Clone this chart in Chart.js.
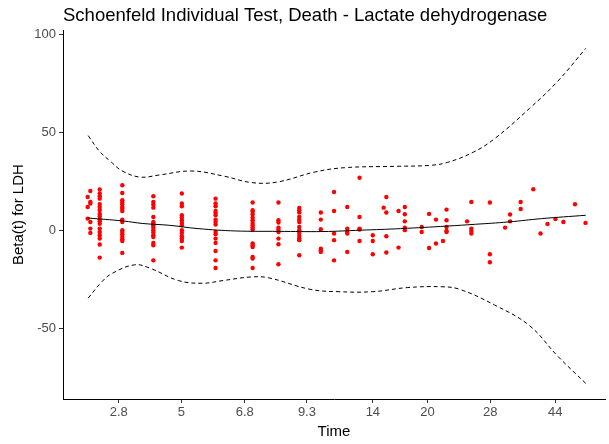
<!DOCTYPE html>
<html>
<head>
<meta charset="utf-8">
<script src="https://cdn.jsdelivr.net/npm/chart.js@4.4.1/dist/chart.umd.min.js"></script>
<style>
  body { margin: 0; background: #fff; }
  canvas { display: block; }
</style>
</head>
<body>
<canvas id="myChart" width="609" height="444"></canvas>
<script>
// transformed time axis (km scale), ticks labelled with the original times
var timeTicks = [0.104, 0.221, 0.339, 0.455, 0.578, 0.68, 0.797, 0.918];
var timeTickLabels = ['2.8', '5', '6.8', '9.3', '14', '20', '28', '44'];
var betaTicks = [-50, 0, 50, 100];

// residuals, one column per event time
var columnTime = [0.046, 0.051, 0.0685, 0.1106, 0.1685, 0.2217, 0.2846, 0.3537, 0.4019, 0.4407,
  0.4809, 0.5056, 0.5302, 0.5531, 0.5778, 0.5981, 0.6031, 0.6259, 0.6376, 0.6691,
  0.6828, 0.6957, 0.7087, 0.7154, 0.7537, 0.7617, 0.7963, 0.8246, 0.8339, 0.8537,
  0.8772, 0.8907, 0.9037, 0.9185, 0.9333, 0.955, 0.9746];
var columnBeta = [
  [17.1, 12.0, 6.1],
  [20.2, 14.6, 13.8, 4.4, 1.0, -1.2],
  [21, 18.9, 17.5, 16.3, 13.5, 12, 10.5, 8.5, 7.3, 5.8, 4.7, 3.5, 1.0, -0.7, -2.4, -4.1, -7.1, -13.8],
  [23.1, 19.2, 15.5, 14.3, 13.3, 12.0, 11.2, 10.0, 5.6, 4.4, 0.2, -0.7, -1.9, -3.3, -4.4, -5.3, -11.4],
  [17.5, 14.6, 13.3, 11.7, 6.9, 4.4, 3.6, 2.7, 1.5, 0.2, -1.0, -2.4, -3.3, -6.3, -7.5, -15.2],
  [18.9, 13.8, 12.4, 7.8, 6.6, 5.3, 3.9, 2.7, 0.2, -1.2, -2.9, -4.1, -5.3, -8.7],
  [16.3, 13.8, 12.4, 10.0, 9.0, 7.8, 5.6, 4.4, 3.1, -0.7, -1.9, -4.1, -6.3, -10.4, -15.2, -19.1],
  [14.3, 10.4, 9.5, 8.2, 6.6, 5.3, 3.9, 2.7, 1.5, 0.5, -6.6, -7.5, -8.4, -13.5, -14.3, -19.1],
  [14.3, 5.3, 4.1, 1.5, 0.5, -0.7, -4.1, -7.0, -17.2],
  [11.5, 10.4, 9.2, 6.9, 5.6, 4.4, 1.8, 0.2, -1.2, -2.8, -4.1, -4.9, -12.6],
  [9.2, 5.6, 0.7, -9.2, -10.1, -10.9],
  [19.7, 10.0, -1.5, -4.9, -15.2],
  [12.0, 1.0, -0.7, -1.5, -10.9],
  [27.0, 6.9, 1.0, 0.5, -5.3],
  [-2.4, -5.3, -12.1],
  [11.7],
  [17.1, 9.2, -2.9, -11.2],
  [10.0, -8.7],
  [12.0, 8.3, 4.7, 1.5, 0.2],
  [1.8, -0.7],
  [8.5, -8.9],
  [5.6, -6.6],
  [-5.3],
  [10.7, 5.3, 1.8, -0.2, -0.7],
  [4.7],
  [14.6, 1.0, -0.2, -1.5],
  [14.3, -12.1, -16.2],
  [1.5],
  [8.2, 4.7],
  [14.6, 11.0],
  [21.1],
  [-1.5],
  [3.4],
  [5.9],
  [4.4],
  [13.4],
  [3.9]
];

// smoothed beta(t)
var fitTime = [0.047, 0.112, 0.149, 0.198, 0.252, 0.322, 0.402, 0.485, 0.556, 0.63, 0.717, 0.769, 0.831, 0.893, 0.975];
var fitBeta = [6.4, 4.9, 3.6, 2.7, 1.0, -0.2, -0.4, -0.5, 0.2, 1.0, 2.3, 3.2, 4.4, 6.1, 7.8];

// confidence bands
var upperTime = [0.047, 0.068, 0.09, 0.11, 0.144, 0.18, 0.24, 0.30, 0.352, 0.40, 0.47, 0.525, 0.62, 0.685, 0.717, 0.766, 0.805, 0.87, 0.922, 0.975];
var upperBeta = [48.5, 40.5, 35, 30.5, 27.3, 28.4, 30.4, 27.8, 24.5, 24.8, 29.9, 32.1, 32.8, 33.3, 34.8, 40.1, 46.9, 62.3, 76.0, 93.0];
var lowerTime = [0.047, 0.073, 0.0915, 0.1335, 0.163, 0.215, 0.26, 0.299, 0.351, 0.383, 0.461, 0.513, 0.578, 0.643, 0.707, 0.74, 0.805, 0.87, 0.922, 0.975];
var lowerBeta = [-34.5, -26, -21.9, -17.5, -19.3, -25.5, -26.9, -25.5, -23.7, -24.1, -30, -31.2, -31.2, -29.1, -28.7, -30, -38, -48.5, -63.9, -78];

function pairs(xs, ys) {
  return xs.map(function (x, i) { return { x: x, y: ys[i] }; });
}

var residualPoints = [];
columnTime.forEach(function (t, i) {
  columnBeta[i].forEach(function (b) { residualPoints.push({ x: t, y: b }); });
});

var tickFont = { family: 'Liberation Sans, Arial', size: 13 };
var titleFont = { family: 'Liberation Sans, Arial', size: 15 };

var ctx = document.getElementById('myChart').getContext('2d');
var chart = new Chart(ctx, {
  type: 'scatter',
  data: {
    datasets: [{
      data: pairs(fitTime, fitBeta),
      showLine: true,
      borderColor: '#000',
      borderWidth: 1,
      pointRadius: 0,
      tension: 0.4
    }, {
      data: pairs(upperTime, upperBeta),
      showLine: true,
      borderColor: '#000',
      borderWidth: 1,
      borderDash: [4, 3],
      pointRadius: 0,
      tension: 0.4
    }, {
      data: pairs(lowerTime, lowerBeta),
      showLine: true,
      borderColor: '#000',
      borderWidth: 1,
      borderDash: [4, 3],
      pointRadius: 0,
      tension: 0.4
    }, {
      data: residualPoints,
      backgroundColor: '#ff0000',
      borderWidth: 0,
      pointRadius: 2.2
    }]
  },
  options: {
    responsive: false,
    animation: false,
    devicePixelRatio: 1,
    layout: { padding: 0 },
    plugins: {
      legend: { display: false },
      tooltip: { enabled: false },
      title: {
        display: true,
        text: 'Schoenfeld Individual Test, Death - Lactate dehydrogenase',
        align: 'start',
        fullSize: false,
        color: '#000',
        font: { family: 'Liberation Sans, Arial', size: 18.5, weight: 'normal' },
        padding: { top: 4.5, bottom: 3.5 }
      }
    },
    scales: {
      x: {
        type: 'linear',
        min: 0,
        max: 1.011,
        afterBuildTicks: function (scale) {
          scale.ticks = timeTicks.map(function (v) { return { value: v }; });
        },
        afterFit: function (scale) { scale.height = 45; },
        ticks: {
          autoSkip: false,
          maxRotation: 0,
          padding: 2,
          color: '#4d4d4d',
          font: tickFont,
          callback: function (value) {
            var i = timeTicks.indexOf(value);
            return i >= 0 ? timeTickLabels[i] : '';
          }
        },
        grid: { drawOnChartArea: false, drawTicks: true, tickLength: 4, color: '#333' },
        border: { display: true, color: '#000', width: 1 },
        title: { display: true, text: 'Time', color: '#000', font: titleFont, padding: { top: 0, bottom: 3 } }
      },
      y: {
        min: -86,
        max: 102.3,
        afterBuildTicks: function (scale) {
          scale.ticks = betaTicks.map(function (v) { return { value: v }; });
        },
        afterFit: function (scale) { scale.width = 63; },
        ticks: {
          padding: 3,
          color: '#4d4d4d',
          font: tickFont
        },
        grid: { drawOnChartArea: false, drawTicks: true, tickLength: 4, color: '#333' },
        border: { display: true, color: '#000', width: 1 },
        title: { display: true, text: 'Beta(t) for LDH', color: '#000', font: titleFont, padding: { top: 10, bottom: 0 } }
      }
    }
  }
});
</script>
</body>
</html>
